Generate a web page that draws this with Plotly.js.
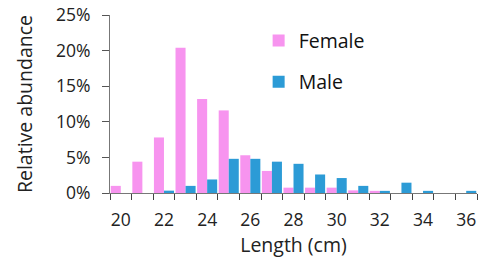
<!DOCTYPE html>
<html>
<head>
<meta charset="utf-8">
<script src="https://cdn.plot.ly/plotly-3.0.1.min.js"></script>
<style>html,body{margin:0;padding:0;background:#fff;}#chart{width:479px;height:271px;}</style>
</head>
<body>
<div id="chart"></div>
<script>
var lengths = [20,21,22,23,24,25,26,27,28,29,30,31,32,33,34,35,36];
var female = [1.0,4.4,7.8,20.4,13.2,11.6,5.3,3.1,0.75,0.75,0.75,0.37,0.3,0,0,0,0];
var male   = [0,0,0.33,1.0,1.9,4.8,4.8,4.4,4.1,2.6,2.1,1.0,0.3,1.45,0.3,0,0.3];
var tickVals = [20,22,24,26,28,30,32,34,36];
var tickText = ['20','22','24','26','28','30','32','34','36'];
var yTicks = [0,5,10,15,20,25];
var yTickText = ['0%','5%','10%','15%','20%','25%'];

var font = "'Open Sans', sans-serif";
var data = [
  {type:'bar', name:'Female', x:lengths, y:female, marker:{color:'#F794EF'}, legendgroup:'f'},
  {type:'bar', name:'Male', x:lengths, y:male, marker:{color:'#2C9BD6'}, legendgroup:'m'}
];
var layout = {
  width:479, height:271,
  margin:{l:110, r:2, t:15, b:78},
  paper_bgcolor:'#fff', plot_bgcolor:'#fff',
  font:{family:font, color:'#222', size:17},
  barmode:'group', bargap:0.07, bargroupgap:0,
  showlegend:true,
  legend:{x:0.405, y:0.965, xanchor:'left', yanchor:'top', font:{size:19.5, color:'#111'},
          traceorder:'grouped', tracegroupgap:13, bgcolor:'rgba(0,0,0,0)'},
  xaxis:{range:[19.5,36.5], tickmode:'array', tickvals:tickVals, ticktext:tickText,
         ticks:'', showline:true, linecolor:'#777', linewidth:1, showgrid:false, zeroline:false,
         tickfont:{size:17.5, color:'#222'}, ticklabelstandoff:11,
         minor:{tick0:19.5, dtick:1, ticks:'outside', ticklen:6, tickcolor:'#444', showgrid:false},
         title:{text:'Length (cm)', font:{size:19.5, color:'#222'}, standoff:4}},
  yaxis:{range:[0,25], tickmode:'array', tickvals:yTicks, ticktext:yTickText,
         ticks:'outside', ticklen:7, tickcolor:'#555', showline:true, linecolor:'#777', linewidth:1,
         showgrid:false, zeroline:false, tickfont:{size:17.5, color:'#222'}, ticklabelstandoff:8,
         title:{text:'Relative abundance', font:{size:19.5, color:'#222'}, standoff:18}}
};
Plotly.newPlot('chart', data, layout, {displayModeBar:false, staticPlot:true});
</script>
</body>
</html>
